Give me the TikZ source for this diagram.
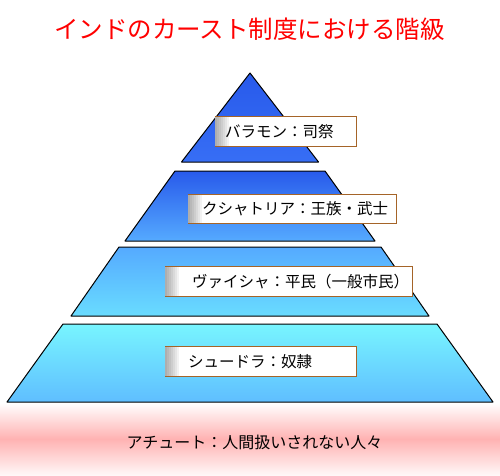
\documentclass[tikz,border=0pt]{standalone}
\usepackage{fontspec}
\setmainfont{Noto Sans CJK JP}
\usepackage{tikz}

\definecolor{tierA}{RGB}{40,90,235}
\definecolor{tierAb}{RGB}{55,110,245}
\definecolor{tierB}{RGB}{85,170,255}
\definecolor{tierC}{RGB}{105,220,255}
\definecolor{tierD}{RGB}{120,245,255}
\definecolor{tierDb}{RGB}{95,190,255}
\definecolor{tagbrown}{RGB}{165,100,40}
\definecolor{untouch}{RGB}{255,178,178}

\begin{document}
\begin{tikzpicture}[x=1pt, y=1pt,
    tier/.style={draw=black, line width=1pt, line join=round},
    tag/.style={fill=white, inner xsep=0pt, inner ysep=0pt, minimum height=29pt, anchor=west,
        font=\fontsize{15.5}{15.5}\selectfont,
        path picture={\foreach \w in {2,4,...,14}
            \fill[black, opacity=0.05] (path picture bounding box.south west) rectangle ([xshift=\w pt]path picture bounding box.north west);}},
    tagline/.style={draw=tagbrown, line width=1.2pt}]
    \useasboundingbox (0,0) rectangle (500,475);
    % Title
    \node[text=red, font=\fontsize{24.5}{24.5}\selectfont] (title) at (249.5,446) {インドのカースト制度における階級};
    % Untouchables band
    \shade[top color=white, bottom color=white!90!untouch, middle color=untouch] (0,0) rectangle (500,72);
    \node[font=\fontsize{16}{16}\selectfont] (dalit) at (254.5,33) {アチュート：人間扱いされない人々};
    % Pyramid tiers
    \shadedraw[tier, top color=tierA, bottom color=tierAb] (250,402) -- (318.5,313) -- (181.5,313) -- cycle;
    \shadedraw[tier, top color=tierA, bottom color=tierB] (175,304) -- (325,304) -- (375,234) -- (125,234) -- cycle;
    \shadedraw[tier, top color=tierB, bottom color=tierC] (119,228) -- (381,228) -- (429,159) -- (71,159) -- cycle;
    \shadedraw[tier, top color=tierD, bottom color=tierDb] (63,151) -- (437,151) -- (493,73) -- (7,73) -- cycle;
    % Labels
    \node[tag] (brahmin) at (215,343.5) {\makebox[141pt][l]{\hspace{10pt}バラモン：司祭}};
    \node[tag, minimum height=28pt] (kshatriya) at (188,266) {\makebox[208pt][l]{\hspace{14pt}クシャトリア：王族・武士}};
    \node[tag] (vaishya) at (165,193.5) {\makebox[247pt][l]{\hspace{27pt}ヴァイシャ：平民（一般市民）}};
    \node[tag] (shudra) at (165,113.5) {\makebox[191pt][l]{\hspace{23pt}シュードラ：奴隷}};
    \foreach \n in {brahmin,kshatriya,vaishya,shudra}
        \draw[tagline] (\n.north west) -- (\n.north east) -- (\n.south east) -- (\n.south west);
\end{tikzpicture}
\end{document}
